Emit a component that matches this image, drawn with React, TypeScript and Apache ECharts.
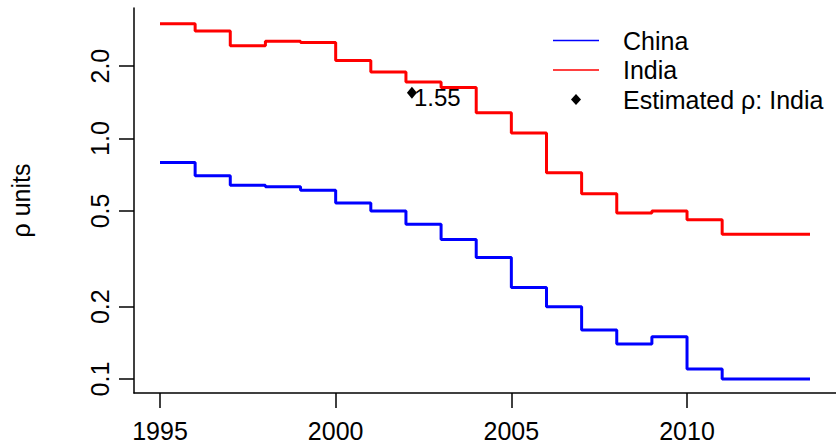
import React, { useEffect, useRef } from "react";
import * as echarts from "echarts";

const years = [1995, 1996, 1997, 1998, 1999, 2000, 2001, 2002, 2003, 2004, 2005, 2006, 2007, 2008, 2009, 2010, 2011, 2012, 2013, 2013.5];
const chinaValues = [0.795, 0.70, 0.64, 0.63, 0.61, 0.54, 0.50, 0.44, 0.38, 0.32, 0.24, 0.20, 0.16, 0.14, 0.15, 0.11, 0.10, 0.10, 0.10, 0.10];
const indiaValues = [3.00, 2.80, 2.43, 2.54, 2.51, 2.11, 1.89, 1.72, 1.63, 1.28, 1.055, 0.72, 0.59, 0.49, 0.50, 0.46, 0.40, 0.40, 0.40, 0.40];
const estYears = [2002.17];
const estValues = [1.55];
const xTicks = [1995, 2000, 2005, 2010];
const yTicks = [0.1, 0.2, 0.5, 1.0, 2.0];

const FONT = "Liberation Sans, Arial, sans-serif";
const LINE_ICON = "path://M0,0H46V1.5H0Z";
const DIAMOND_ICON = "path://M5,0L10,5.5L5,11L0,5.5Z";

export default function App() {
  const ref = useRef<HTMLDivElement>(null);
  useEffect(() => {
    if (!ref.current) return;
    const chart = echarts.init(ref.current, null, { renderer: "svg" });
    const china = years.map((y, i) => [y, chinaValues[i]]);
    const india = years.map((y, i) => [y, indiaValues[i]]);
    const est = estYears.map((y, i) => [y, estValues[i]]);
    chart.setOption({
      animation: false,
      backgroundColor: "#fff",
      grid: { left: 132, top: 8, width: 706.5, height: 385, containLabel: false },
      xAxis: {
        type: "value",
        min: 1994.26,
        max: 2014.24,
        splitLine: { show: false },
        axisLine: { show: true, onZero: false, lineStyle: { color: "#000", width: 1.5 } },
        axisTick: { show: true, length: 15, lineStyle: { color: "#000", width: 1.5 }, customValues: xTicks },
        axisLabel: { customValues: xTicks, color: "#000", fontSize: 25, fontFamily: FONT, margin: 25, formatter: (v: number) => String(v) },
      },
      yAxis: {
        type: "log",
        logBase: 10,
        min: 0.0875,
        max: 3.49,
        name: "ρ units",
        nameLocation: "middle",
        nameGap: 101,
        nameTextStyle: { color: "#000", fontSize: 25, fontFamily: FONT },
        splitLine: { show: false },
        axisLine: { show: true, lineStyle: { color: "#000", width: 1.5 } },
        axisTick: { show: true, length: 15, lineStyle: { color: "#000", width: 1.5 }, customValues: yTicks },
        axisLabel: { customValues: yTicks, rotate: 90, color: "#000", fontSize: 25, fontFamily: FONT, margin: 22, formatter: (v: number) => v.toFixed(1) },
      },
      legend: {
        orient: "vertical",
        left: 553,
        top: 28,
        padding: 0,
        itemWidth: 46,
        itemHeight: 11,
        itemGap: 4.5,
        textStyle: { color: "#000", fontSize: 25, fontFamily: FONT, padding: [0, 0, 0, 19] },
        data: [
          { name: "China", icon: LINE_ICON },
          { name: "India", icon: LINE_ICON },
          { name: "Estimated ρ: India", icon: DIAMOND_ICON },
        ],
      },
      series: [
        {
          name: "China",
          type: "line",
          step: "end",
          data: china,
          symbol: "none",
          showSymbol: false,
          lineStyle: { color: "#0000FF", width: 3 },
          itemStyle: { color: "#0000FF" },
        },
        {
          name: "India",
          type: "line",
          step: "end",
          data: india,
          symbol: "none",
          showSymbol: false,
          lineStyle: { color: "#FF0000", width: 3 },
          itemStyle: { color: "#FF0000" },
        },
        {
          name: "Estimated ρ: India",
          type: "scatter",
          data: est,
          symbol: "diamond",
          symbolSize: [10, 12],
          itemStyle: { color: "#000", opacity: 1 },
          label: {
            show: true,
            position: "right",
            distance: 0,
            offset: [-3, 5],
            color: "#000",
            opacity: 1,
            fontSize: 24,
            fontFamily: FONT,
            formatter: (p: any) => p.value[1].toFixed(2),
          },
        },
      ],
    });
    return () => chart.dispose();
  }, []);
  return <div ref={ref} style={{ position: "absolute", left: 0, top: 0, width: 836, height: 444 }} />;
}
